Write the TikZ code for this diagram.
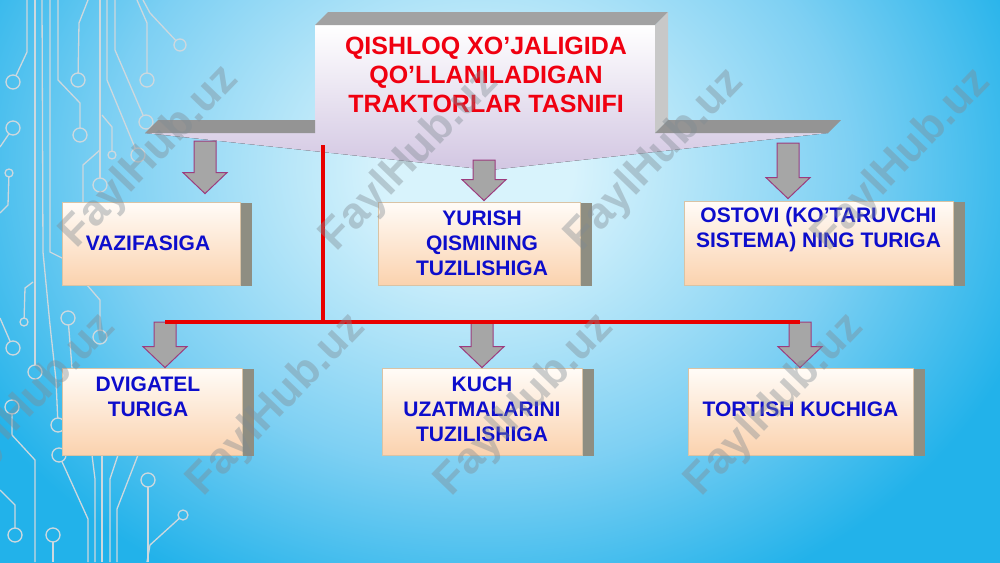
\documentclass[tikz,border=0pt]{standalone}
\usepackage{fontspec}
\setmainfont{Liberation Sans}
\usetikzlibrary{shadows,calc}
\definecolor{bgout}{HTML}{22B2EA}
\definecolor{bgmid}{HTML}{7ED0F3}
\definecolor{bgin}{HTML}{D8F3FC}
\definecolor{pcb}{HTML}{CDD8DE}
\definecolor{boxtop}{HTML}{FFFCF8}
\definecolor{boxbot}{HTML}{FBD2AE}
\definecolor{boxedge}{HTML}{D9C3A5}
\definecolor{boxshadow}{HTML}{8E8E82}
\definecolor{catblue}{HTML}{0D0DCC}
\definecolor{titlered}{HTML}{F00010}
\definecolor{arrgray}{HTML}{A6A6A6}
\definecolor{arrpurple}{HTML}{9C3C7E}
\definecolor{lav}{HTML}{D2C6E2}
\definecolor{topgray}{HTML}{A2A2A2}
\definecolor{sidegray}{HTML}{C8C8C8}
\definecolor{ledgegray}{HTML}{949494}
\definecolor{redline}{HTML}{E80000}
\definecolor{wmgray}{HTML}{7F8A92}
\pgfdeclareradialshading{bgshade}{\pgfpointorigin}{color(0bp)=(bgin); color(4bp)=(bgin); color(16bp)=(bgmid); color(25bp)=(bgout); color(50bp)=(bgout)}
\tikzset{
  pcbline/.style={draw=pcb, line width=1.3pt},
  catbox/.style={draw=boxedge, line width=0.8pt, top color=boxtop, bottom color=boxbot,
    general shadow={fill=boxshadow, shadow xshift=12pt, shadow yshift=-1pt}, inner sep=0pt},
  cattext/.style={font=\fontsize{21}{25}\selectfont\bfseries, text=catblue, align=center, inner sep=0pt},
  titletext/.style={font=\fontsize{25}{29}\selectfont\bfseries, text=titlered, align=center, inner sep=0pt},
  blockarr/.style={fill=arrgray, draw=arrpurple, line width=1pt, line join=miter},
  redconn/.style={draw=redline, line width=3.5pt},
  wmark/.style={font=\fontsize{44}{44}\selectfont\bfseries, text=wmgray, opacity=0.4, rotate=46},
}
\newcommand\pcbend[3]{%
  \draw[pcbline, shorten >=#3pt] #1 -- #2;
  \draw[pcbline] #2 circle[radius=#3];}
\newcommand\blockarrow[2]{%
  \path[blockarr] let \p1=(#1), \p2=(#2) in
  (\x1-11pt,\y1) -- (\x1+11pt,\y1) -- (\x1+11pt,\y2+21pt) -- (\x1+22pt,\y2+21pt) --
  (\x1,\y2) -- (\x1-22pt,\y2+21pt) -- (\x1-11pt,\y2+21pt) -- cycle;}
\begin{document}
\begin{tikzpicture}[x=1pt,y=-1pt]
\useasboundingbox (0,0) rectangle (1000,562);
\begin{scope}
\clip (0,0) rectangle (1000,562);
\shade[shading=bgshade] (-100,-300) rectangle (1060,640);
% circuit decoration
\pcbend{(27,0)--(27,52)}{(13,82)}{7}
\pcbend{(35,0)}{(35,372)}{7}
\pcbend{(42,0)--(43,252)--(50,325)--(56,380)}{(58,425)}{7}
\draw[pcbline] (50,0)--(50,252)--(62,258);
\pcbend{(58,0)--(58,80)--(80,103)}{(80,135)}{7}
\pcbend{(88,0)--(79,23)}{(78,80)}{7}
\pcbend{(100,0)}{(100,185)}{7}
\pcbend{(107,0)--(107,80)}{(138,155)}{7}
\pcbend{(115,0)--(115,50)}{(146,122)}{7}
\pcbend{(137,0)--(147,23)}{(147,80)}{7}
\pcbend{(143,0)--(150,13)}{(180,45)}{6}
\pcbend{(0,147)}{(13,128)}{7}
\pcbend{(0,213)--(8,205)}{(9,173)}{4}
\pcbend{(102,115)--(112,127)}{(112,155)}{4}
\draw[pcbline] (100,150)--(83,165)--(83,202);
\pcbend{(33,282)--(25,288)}{(24,322)}{4}
\pcbend{(0,318)}{(13,348)}{7}
\pcbend{(87,285)--(100,300)}{(100,337)}{7}
\pcbend{(72,368)}{(68,318)}{7}
\pcbend{(35,562)--(35,460)--(12,435)}{(12,407)}{7}
\pcbend{(88,562)--(88,519)}{(59,455)}{7}
\draw[pcbline] (92,455)--(95,479)--(95,562);
\draw[pcbline] (102,455)--(102,562);
\draw[pcbline] (118,455)--(110,479)--(110,562);
\draw[pcbline] (138,455)--(117,509)--(117,562);
\pcbend{(148,562)}{(148,480)}{7}
\pcbend{(147,562)--(150,545)}{(183,515)}{5}
\pcbend{(0,490)--(15,505)}{(15,535)}{7}
\pcbend{(53,562)}{(53,535)}{7}
\end{scope}
% title shape
\fill[top color=white, bottom color=lav] (315,25) -- (655,25) -- (655,133) -- (828,133) -- (490,170) -- (145,133) -- (315,133) -- cycle;
\fill[topgray] (315,25) -- (328,12) -- (668,12) -- (655,25) -- cycle;
\fill[sidegray] (655,25) -- (668,12) -- (668,120) -- (655,133) -- cycle;
\fill[ledgegray] (655,133) -- (668,120) -- (841,120) -- (828,133) -- cycle;
\fill[ledgegray] (145,133) -- (158,120) -- (315,120) -- (315,133) -- cycle;
\node[titletext] (title) at (486,75) {QISHLOQ XO’JALIGIDA\\QO’LLANILADIGAN\\TRAKTORLAR TASNIFI};
% boxes
\node[catbox, minimum width=178pt, minimum height=83pt] (b1) at (151,243.5) {};
\node[catbox, minimum width=202pt, minimum height=83pt] (b2) at (479,243.5) {};
\node[catbox, minimum width=269pt, minimum height=84pt] (b3) at (818.5,243) {};
\node[catbox, minimum width=180pt, minimum height=87pt] (b4) at (152,411.5) {};
\node[catbox, minimum width=200pt, minimum height=87pt] (b5) at (482,411.5) {};
\node[catbox, minimum width=225pt, minimum height=87pt] (b6) at (800.5,411.5) {};
\node[cattext] (t1) at ($(b1.center)+(-3,0)$) {VAZIFASIGA};
\node[cattext] (t2) at ($(b2.center)+(3,0)$) {YURISH\\QISMINING\\TUZILISHIGA};
\node[cattext] (t3) at ($(b3.center)+(0,-13)$) {OSTOVI (KO’TARUVCHI\\SISTEMA) NING TURIGA};
\node[cattext] (t4) at ($(b4.center)+(-4,-15)$) {DVIGATEL\\TURIGA};
\node[cattext] (t5) at ($(b5.center)+(0,-2)$) {KUCH\\UZATMALARINI\\TUZILISHIGA};
\node[cattext] (t6) at ($(b6.center)+(0,-2)$) {TORTISH KUCHIGA};
% connectors
\coordinate (a1) at (205,141);
\coordinate (a2) at (484,160);
\coordinate (a3) at (788,143);
\coordinate (a4) at (165,322);
\coordinate (a5) at (482,322);
\coordinate (a6) at (800,322);
\coordinate (rtop) at (323,145);
\draw[redconn] (rtop) -- (rtop |- a4);
\blockarrow{a1}{$(a1 |- b1.north)+(0,-8)$}
\blockarrow{a2}{$(a2 |- b2.north)+(0,-1)$}
\blockarrow{a3}{$(a3 |- b3.north)+(0,-2)$}
\blockarrow{a4}{a4 |- b4.north}
\blockarrow{a5}{a5 |- b5.north}
\blockarrow{a6}{a6 |- b6.north}
\draw[redconn] (a4) -- (a6);
% watermarks
\begin{scope}
\clip (0,0) rectangle (1000,562);
\node[wmark] (w1) at (150,157) {FaylHub.uz};
\node[wmark] (w2) at (410,160) {FaylHub.uz};
\node[wmark] (w3) at (655,160) {FaylHub.uz};
\node[wmark] (w4) at (902,160) {FaylHub.uz};
\node[wmark] (w5) at (27,405) {FaylHub.uz};
\node[wmark] (w6) at (277,405) {FaylHub.uz};
\node[wmark] (w7) at (525,405) {FaylHub.uz};
\node[wmark] (w8) at (775,405) {FaylHub.uz};
\end{scope}
\end{tikzpicture}
\end{document}
